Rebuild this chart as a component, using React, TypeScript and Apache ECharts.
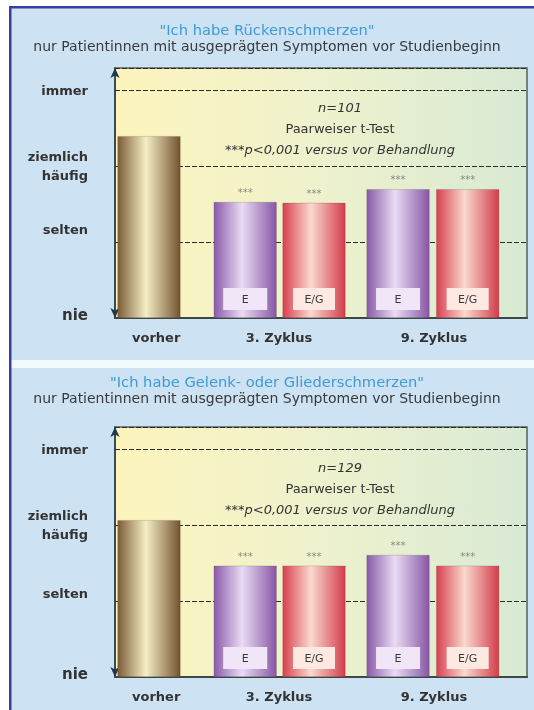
import React, { useEffect, useRef } from 'react';
import * as echarts from 'echarts';

// ---------- data ----------
const levelLabels = ['nie', 'selten', 'ziemlich\nhäufig', 'immer'];
const groupLabels = ['vorher', '3. Zyklus', '9. Zyklus'];
const barKinds = ['vorher', 'E', 'E/G', 'E', 'E/G'];

const title1 = '"Ich habe Rückenschmerzen"';
const title2 = '"Ich habe Gelenk- oder Gliederschmerzen"';
const subtitle = 'nur Patientinnen mit ausgeprägten Symptomen vor Studienbeginn';

const backValues = [2.40, 1.53, 1.52, 1.70, 1.70];
const jointValues = [2.07, 1.47, 1.47, 1.61, 1.47];
const starMarks = ['', '***', '***', '***', '***'];

const nBack = 'n=101';
const nJoint = 'n=129';
const testName = 'Paarweiser t-Test';
const sigNote = '***p<0,001 versus vor Behandlung';

// ---------- layout ----------
const FONT = '"DejaVu Sans", sans-serif';
const barPos = [8.25, 31.6, 48.3, 68.7, 85.6];
const groupLabelPos = [10.0, 39.8, 77.4];
const plotLeft = 115;
const plotWidth = 412;
const plotHeight = 250;
const plotTops = [68, 427];
const yMax = 3.3;

const gradBar = (edge: string, mid: string, edge2: string) =>
  new echarts.graphic.LinearGradient(0, 0, 1, 0, [
    { offset: 0, color: edge },
    { offset: 0.45, color: mid },
    { offset: 1, color: edge2 },
  ]);

const barColors: Record<string, () => any> = {
  vorher: () => gradBar('#7c5b36', '#f6eec6', '#735330'),
  E: () => gradBar('#8a5aa8', '#e8dcf3', '#8756a5'),
  'E/G': () => gradBar('#d8404f', '#fad9ce', '#d33c4b'),
};
const boxColors: Record<string, string> = { E: '#f0e6f7', 'E/G': '#fde8e2' };

function nearestIndex(arr: number[], v: number) {
  let best = 0;
  arr.forEach((a, i) => {
    if (Math.abs(a - v) < Math.abs(arr[best] - v)) best = i;
  });
  return best;
}

function buildOption() {
  const panels = [
    { values: backValues, seltenShift: 26 },
    { values: jointValues, seltenShift: 16 },
  ];
  const grid: any[] = [];
  const xAxis: any[] = [];
  const yAxis: any[] = [];
  const series: any[] = [];

  panels.forEach((p, gi) => {
    grid.push({
      left: plotLeft,
      top: plotTops[gi],
      width: plotWidth,
      height: plotHeight,
      show: true,
      borderColor: '#56625c',
      borderWidth: 1.5,
      backgroundColor: new echarts.graphic.LinearGradient(0, 0, 1, 0, [
        { offset: 0, color: '#fdf4bc' },
        { offset: 0.45, color: '#f0f2cc' },
        { offset: 1, color: '#d8ead4' },
      ]),
    });
    xAxis.push({
      gridIndex: gi,
      type: 'value',
      min: 0,
      max: 100,
      axisLine: { show: true, lineStyle: { color: '#3c4845', width: 2 } },
      axisTick: { show: false },
      splitLine: { show: false },
      axisLabel: {
        customValues: groupLabelPos,
        formatter: (v: number) => groupLabels[nearestIndex(groupLabelPos, v)],
        margin: 13,
        fontSize: 13,
        fontWeight: 'bold',
        color: '#333',
        fontFamily: FONT,
      },
    });
    yAxis.push({
      gridIndex: gi,
      type: 'value',
      min: 0,
      max: yMax,
      interval: 1,
      offset: 15,
      axisLine: {
        show: true,
        symbol: ['arrow', 'arrow'],
        symbolSize: [7, 10],
        lineStyle: { color: '#1f3b49', width: 1.5 },
      },
      axisTick: { show: false },
      splitLine: { show: true, lineStyle: { color: '#2b2b2b', width: 1, type: [5, 2] } },
      axisLabel: {
        margin: 12,
        fontFamily: FONT,
        formatter: (v: number) => {
          const i = Math.round(v);
          if (Math.abs(v - i) > 1e-6 || i > 3) return '';
          if (i === 0) return '{n|' + levelLabels[0] + '}';
          if (i === 1) return '{s|' + levelLabels[1] + '}';
          if (i === 2) return levelLabels[2].split('\n').map((t) => '{z|' + t + '}').join('\n');
          return '{z|' + levelLabels[3] + '}';
        },
        rich: {
          n: { fontSize: 15, fontWeight: 'bold', color: '#333', fontFamily: FONT, padding: [0, 0, 6, 0] },
          s: { fontSize: 13, fontWeight: 'bold', color: '#333', fontFamily: FONT, padding: [0, 0, p.seltenShift, 0] },
          z: { fontSize: 13, fontWeight: 'bold', color: '#333', fontFamily: FONT, lineHeight: 19 },
        },
      },
    });
    series.push({
      type: 'bar',
      xAxisIndex: gi,
      yAxisIndex: gi,
      barWidth: 63,
      data: p.values.map((v, i) => {
        const kind = barKinds[i];
        const item: any = {
          value: [barPos[i], v],
          itemStyle: { color: barColors[kind](), borderColor: 'rgba(60,40,40,0.35)', borderWidth: 0.5 },
        };
        if (kind !== 'vorher') {
          item.label = {
            show: true,
            position: 'insideBottom',
            distance: 8,
            formatter: kind,
            backgroundColor: boxColors[kind],
            color: '#3a3a3a',
            fontSize: 11,
            fontFamily: FONT,
            width: kind === 'E' ? 44 : 42,
            height: 22,
            lineHeight: 22,
            align: 'center',
          };
        }
        return item;
      }),
    });
    series.push({
      type: 'scatter',
      xAxisIndex: gi,
      yAxisIndex: gi,
      symbolSize: 1,
      itemStyle: { color: 'rgba(0,0,0,0)' },
      data: p.values
        .map((v, i) => ({ value: [barPos[i], v], mark: starMarks[i] }))
        .filter((d) => d.mark)
        .map((d) => ({ value: d.value, label: { formatter: d.mark } })),
      label: {
        show: true,
        position: 'top',
        distance: 4,
        color: '#707070',
        fontSize: 10,
        fontFamily: FONT,
      },
    });
  });

  const annot = (texts: string[], y0: number) =>
    texts.map((t, i) => ({
      type: 'text',
      x: 340,
      y: y0 + i * 21,
      z: 10,
      style: {
        text: t,
        fill: '#333',
        font: (i === 1 ? 'normal' : 'italic') + ' 13px ' + FONT,
        align: 'center',
        verticalAlign: 'middle',
      },
    }));

  const graphic: any[] = [
    { type: 'rect', z: -20, shape: { x: 0, y: 0, width: 534, height: 710 }, style: { fill: '#ffffff' } },
    { type: 'rect', z: -19, shape: { x: 10, y: 7, width: 524, height: 353 }, style: { fill: '#cde2f3' } },
    { type: 'rect', z: -19, shape: { x: 10, y: 368, width: 524, height: 342 }, style: { fill: '#cde2f3' } },
    { type: 'rect', z: -18, shape: { x: 10, y: 360, width: 524, height: 8 }, style: { fill: '#f2fafe' } },
    { type: 'rect', z: -17, shape: { x: 9, y: 6, width: 2.5, height: 704 }, style: { fill: '#3a3e9c' } },
    { type: 'rect', z: -17, shape: { x: 9, y: 6, width: 525, height: 2.5 }, style: { fill: '#3a3e9c' } },
    ...annot([nBack, testName, sigNote], 107),
    ...annot([nJoint, testName, sigNote], 467),
  ];

  const titleLine = (text: string, top: number, size: number, color: string) => ({
    text,
    left: 'center',
    top,
    padding: 0,
    textStyle: { fontSize: size, lineHeight: size + 1, fontWeight: 'normal', color, fontFamily: FONT },
  });

  return {
    animation: false,
    title: [
      titleLine(title1, 22, 14.7, '#3f9bd6'),
      titleLine(subtitle, 38, 14, '#3a3a3a'),
      titleLine(title2, 374, 14.7, '#3f9bd6'),
      titleLine(subtitle, 390, 14, '#3a3a3a'),
    ],
    graphic,
    grid,
    xAxis,
    yAxis,
    series,
  };
}

export default function App() {
  const ref = useRef<HTMLDivElement>(null);
  useEffect(() => {
    if (!ref.current) return;
    const chart = echarts.init(ref.current, undefined, { renderer: 'svg' });
    chart.setOption(buildOption() as any);
    return () => chart.dispose();
  }, []);
  return (
    <div
      ref={ref}
      style={{ position: 'fixed', left: 0, top: 0, width: 534, height: 710 }}
    />
  );
}
